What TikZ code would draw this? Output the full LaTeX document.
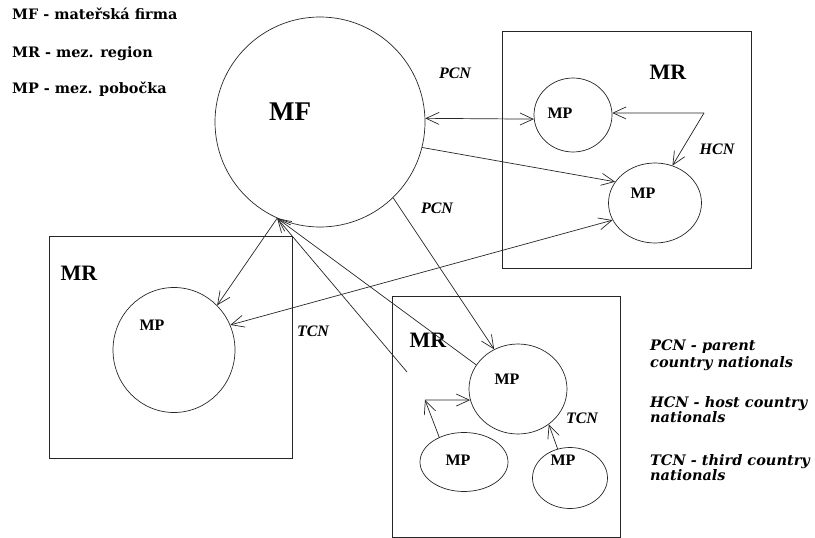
\documentclass[tikz,border=0pt]{standalone}
\usepackage{fontspec}
\setmainfont{Liberation Serif}
\newfontfamily\legfont{DejaVu Serif}
\usetikzlibrary{shapes.geometric,arrows.meta}

\begin{document}
\begin{tikzpicture}[x=1pt,y=-1pt,
  hrot/.tip={Straight Barb[length=13pt,width=12pt]},
  kruh/.style={draw=black!85,line width=.7pt,ellipse,inner sep=0pt},
  sipka/.style={draw=black!85,line width=.7pt,-hrot},
  dvoj/.style={draw=black!85,line width=.7pt,hrot-hrot},
  cara/.style={draw=black!85,line width=.7pt},
  mp/.style={font=\bfseries\fontsize{16}{16}\selectfont},
  mr/.style={font=\bfseries\fontsize{22}{22}\selectfont},
  zkr/.style={font=\bfseries\itshape\fontsize{16}{16}\selectfont},
  leg/.style={font=\legfont\bfseries\fontsize{14.4}{14.4}\selectfont,anchor=base west,inner sep=0pt},
  leg2/.style={font=\legfont\bfseries\itshape\fontsize{14.5}{14.5}\selectfont,anchor=base west,inner sep=0pt}]
\useasboundingbox (0,0) rectangle (815,538);
% legenda
\node[leg] (l1) at (12,19.5) {MF - mateřská firma};
\node[leg] (l2) at (12,57) {MR - mez. region};
\node[leg] (l3) at (12,93) {MP - mez. pobočka};
\node[leg2] (l4) at (650,350) {PCN - parent};
\node[leg2] (l4b) at (650,367) {country nationals};
\node[leg2] (l5) at (650,407) {HCN - host country};
\node[leg2] (l5b) at (650,422) {nationals};
\node[leg2] (l6) at (650,465) {TCN - third country};
\node[leg2] (l6b) at (650,480) {nationals};
% regiony
\draw[cara] (502,31) rectangle (751,268);
\draw[cara] (49,236) rectangle (292,458);
\draw[cara] (392,296) rectangle (620,537);
\node[mr] (mr1) at (668,72) {MR};
\node[mr] (mr2) at (79,273) {MR};
\node[mr] (mr3) at (428,340) {MR};
% firma a pobocky
\node[kruh,minimum width=210,minimum height=210] (mf) at (320,122) {};
\node[kruh,minimum width=78,minimum height=74] (mp1) at (573,115) {};
\node[kruh,minimum width=93,minimum height=80] (mp2) at (655,203) {};
\node[kruh,minimum width=122,minimum height=125] (mpl) at (174,350) {};
\node[kruh,minimum width=98,minimum height=90] (mpm) at (518,389) {};
\node[kruh,minimum width=88,minimum height=59] (mpa) at (464,462) {};
\node[kruh,minimum width=75,minimum height=61] (mpb) at (570,478) {};
\node[font=\bfseries\fontsize{27}{27}\selectfont] (tmf) at (290,112) {MF};
\node[mp] (t1) at (560,113) {MP};
\node[mp] (t2) at (643,193) {MP};
\node[mp] (t3) at (152,325) {MP};
\node[mp] (t4) at (507,379) {MP};
\node[mp] (t5) at (458,460) {MP};
\node[mp] (t6) at (563,460) {MP};
% popisky
\node[zkr] (pcn1) at (455,73) {PCN};
\node[zkr] (pcn2) at (437,208) {PCN};
\node[zkr] (hcn) at (717,149) {HCN};
\node[zkr] (tcn1) at (313,331) {TCN};
\node[zkr] (tcn2) at (582,418) {TCN};
\coordinate (h) at (704,113);
\coordinate (v) at (407,372);
\coordinate (k) at (425,400);
% sipky
\draw[dvoj] (mf.2) -- (mp1.186);
\draw[sipka] (mf.-14) -- (mp2.152);
\draw[sipka] (h) -- (mp1.3);
\draw[sipka] (h) -- (mp2.65);
\draw[dvoj] (mpl.24) -- (mp2.202);
\draw[sipka] (mf.-114) -- (mpl.46);
\draw[sipka] (mpm.150) -- (mf.-114);
\draw[sipka] (v) -- (mf.-114);
\draw[sipka] (mf.-46) -- (mpm.121);
\draw[sipka] (mpa.135) -- (k);
\draw[sipka] (k) -- (mpm.193);
\draw[sipka] (mpb.113) -- (mpm.-49);
\end{tikzpicture}
\end{document}
